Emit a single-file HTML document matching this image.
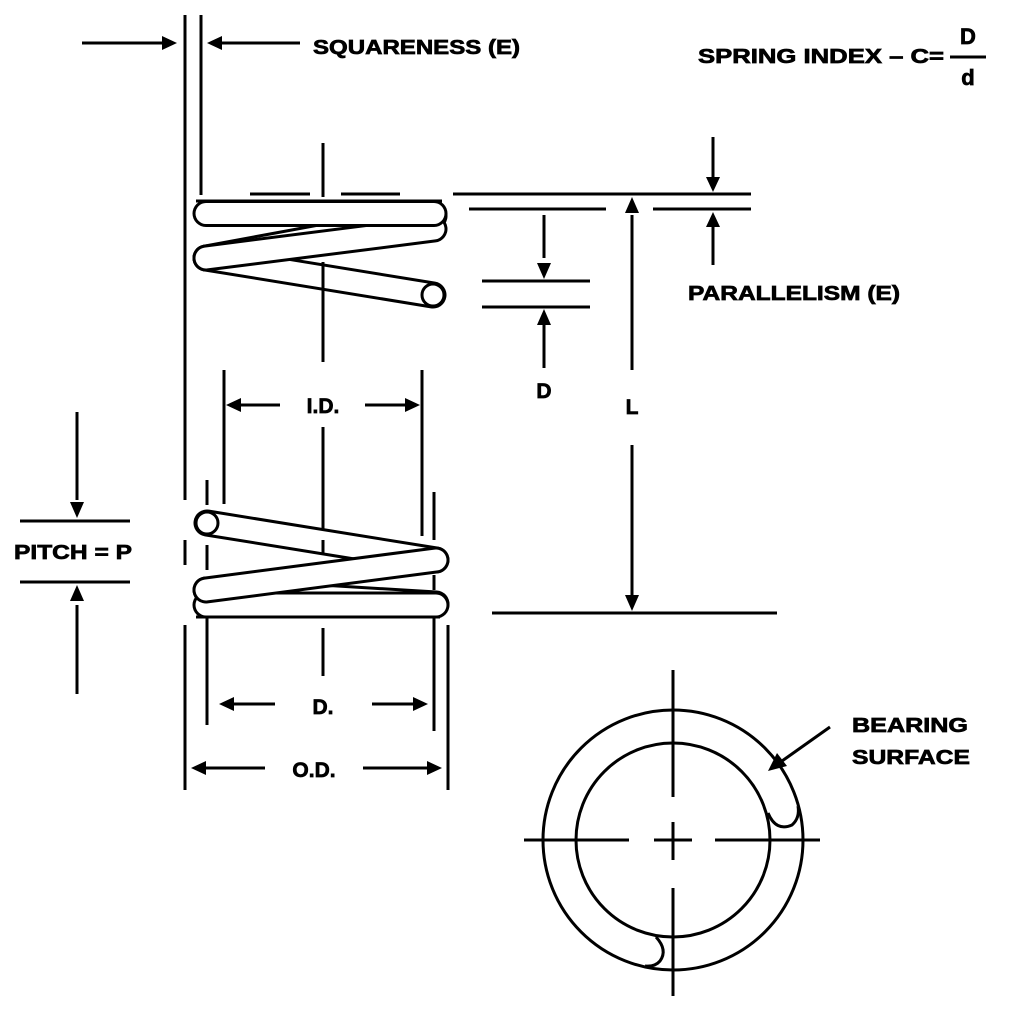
<!DOCTYPE html>
<html><head><meta charset="utf-8"><style>
html,body{margin:0;padding:0;background:#fff;}
svg{display:block;}
text{font-family:"Liberation Sans",sans-serif;font-weight:bold;fill:#000;stroke:#000;stroke-width:0.7;}
</style></head><body>
<svg width="1024" height="1024" viewBox="0 0 1024 1024" xmlns="http://www.w3.org/2000/svg">
<rect width="1024" height="1024" fill="#fff"/>
<g stroke="#000" stroke-width="3" fill="none">
<line x1="185" y1="15" x2="185" y2="500"/>
<line x1="185" y1="540" x2="185" y2="565"/>
<line x1="185" y1="625" x2="185" y2="790"/>
<line x1="201" y1="15" x2="201" y2="195"/>
<line x1="82" y1="43" x2="165" y2="43"/>
<line x1="220" y1="43" x2="300" y2="43"/>
<line x1="323" y1="143" x2="323" y2="197"/>
<line x1="250" y1="194" x2="310" y2="194"/>
<line x1="341" y1="194" x2="400" y2="194"/>
<line x1="453" y1="194" x2="751" y2="194"/>
<line x1="469" y1="209" x2="606" y2="209"/>
<line x1="653" y1="209" x2="751" y2="209"/>
<line x1="713" y1="137" x2="713" y2="180"/>
<line x1="713" y1="265" x2="713" y2="225"/>
<line x1="544" y1="215" x2="544" y2="258"/>
<line x1="482" y1="281" x2="590" y2="281"/>
<line x1="482" y1="307" x2="590" y2="307"/>
<line x1="544" y1="368" x2="544" y2="325"/>
<line x1="632" y1="370" x2="632" y2="215"/>
<line x1="632" y1="445" x2="632" y2="595"/>
<line x1="492" y1="613" x2="777" y2="613"/>
<line x1="224" y1="370" x2="224" y2="504"/>
<line x1="422" y1="370" x2="422" y2="536"/>
<line x1="238" y1="405" x2="280" y2="405"/>
<line x1="365" y1="405" x2="408" y2="405"/>
<line x1="323" y1="427" x2="323" y2="555"/>
<line x1="207" y1="480" x2="207" y2="505"/>
<line x1="207" y1="545" x2="207" y2="570"/>
<line x1="207" y1="617" x2="207" y2="725"/>
<line x1="434" y1="492" x2="434" y2="540"/>
<line x1="434" y1="575" x2="434" y2="590"/>
<line x1="434" y1="617" x2="434" y2="731"/>
<line x1="448" y1="625" x2="448" y2="790"/>
<line x1="323" y1="628" x2="323" y2="676"/>
<line x1="232" y1="704" x2="275" y2="704"/>
<line x1="372" y1="704" x2="415" y2="704"/>
<line x1="204" y1="768" x2="265" y2="768"/>
<line x1="363" y1="768" x2="428" y2="768"/>
<line x1="20" y1="521" x2="130" y2="521"/>
<line x1="20" y1="582" x2="130" y2="582"/>
<line x1="77" y1="412" x2="77" y2="500"/>
<line x1="77" y1="694" x2="77" y2="605"/>
<line x1="950" y1="57" x2="986" y2="57"/>
<circle cx="673" cy="840" r="130"/>
<circle cx="673" cy="840" r="97"/>
<line x1="673" y1="670" x2="673" y2="797"/>
<line x1="673" y1="822" x2="673" y2="860"/>
<line x1="673" y1="888" x2="673" y2="996"/>
<line x1="524" y1="840" x2="629" y2="840"/>
<line x1="654" y1="840" x2="692" y2="840"/>
<line x1="715" y1="840" x2="820" y2="840"/>
<line x1="830" y1="727" x2="782" y2="761"/>
</g>
<path d="M768,813 Q776,832 792,825 Q800,818 798,806" stroke="#000" stroke-width="3" fill="#fff"/>
<path d="M656,937 Q668,950 660,961 Q655,967 645,966" stroke="#000" stroke-width="3" fill="#fff"/>
<g fill="#000">
<polygon points="177,43 162,36 162,50"/>
<polygon points="207,43 222,36 222,50"/>
<polygon points="713,192 706,177 720,177"/>
<polygon points="713,212 706,227 720,227"/>
<polygon points="544,279 537,263 551,263"/>
<polygon points="544,309 537,325 551,325"/>
<polygon points="632,197 625,213 639,213"/>
<polygon points="632,611 625,595 639,595"/>
<polygon points="226,405 241,398 241,412"/>
<polygon points="420,405 405,398 405,412"/>
<polygon points="219,704 234,697 234,711"/>
<polygon points="428,704 413,697 413,711"/>
<polygon points="191,768 206,761 206,775"/>
<polygon points="442,768 427,761 427,775"/>
<polygon points="77,518 70,502 84,502"/>
<polygon points="77,585 70,601 84,601"/>
<polygon points="768,771 777,753 787,766"/>
</g>
<g stroke-linecap="round" fill="none">
<path d="M434,216 L206,258" stroke="#000" stroke-width="27"/><path d="M434,216 L206,258" stroke="#fff" stroke-width="21"/>
<path d="M206,258 L433,295" stroke="#000" stroke-width="27"/><path d="M206,258 L433,295" stroke="#fff" stroke-width="21"/>
</g>
<line x1="323" y1="262" x2="323" y2="362" stroke="#000" stroke-width="3"/>
<g stroke-linecap="round" fill="none">
<path d="M206,258 L434,229" stroke="#000" stroke-width="27"/><path d="M206,258 L434,229" stroke="#fff" stroke-width="21"/>
<path d="M206,213.5 L434,213.5" stroke="#000" stroke-width="27"/><path d="M206,213.5 L434,213.5" stroke="#fff" stroke-width="21"/>
<path d="M206,590 L436,604" stroke="#000" stroke-width="27"/><path d="M206,590 L436,604" stroke="#fff" stroke-width="21"/>
<path d="M206,605 L436,605" stroke="#000" stroke-width="27"/><path d="M206,605 L436,605" stroke="#fff" stroke-width="21"/>
<path d="M207,523 L436,560" stroke="#000" stroke-width="27"/><path d="M207,523 L436,560" stroke="#fff" stroke-width="21"/>
</g>
<line x1="323" y1="540" x2="323" y2="555" stroke="#000" stroke-width="3"/>
<g stroke-linecap="round" fill="none">
<path d="M206,590 L436,560" stroke="#000" stroke-width="27"/><path d="M206,590 L436,560" stroke="#fff" stroke-width="21"/>
</g>
<line x1="196" y1="617" x2="440" y2="617" stroke="#000" stroke-width="3"/>
<line x1="196" y1="201" x2="442" y2="201" stroke="#000" stroke-width="3"/>
<circle cx="433" cy="295" r="11" stroke="#000" stroke-width="3" fill="#fff"/>
<circle cx="207" cy="523" r="11" stroke="#000" stroke-width="3" fill="#fff"/>
<text x="313" y="54" font-size="20" textLength="207" lengthAdjust="spacingAndGlyphs">SQUARENESS (E)</text>
<text x="698" y="63" font-size="20" textLength="246" lengthAdjust="spacingAndGlyphs">SPRING INDEX – C=</text>
<text x="968" y="44" font-size="22" text-anchor="middle">D</text>
<text x="968" y="85" font-size="22" text-anchor="middle">d</text>
<text x="688" y="300" font-size="20" textLength="212" lengthAdjust="spacingAndGlyphs">PARALLELISM (E)</text>
<text x="544" y="398" font-size="21" text-anchor="middle">D</text>
<text x="632" y="414" font-size="21" text-anchor="middle">L</text>
<text x="323" y="413" font-size="21" text-anchor="middle">I.D.</text>
<text x="323" y="714" font-size="21" text-anchor="middle">D.</text>
<text x="314" y="777" font-size="21" text-anchor="middle">O.D.</text>
<text x="14" y="559" font-size="20" textLength="118" lengthAdjust="spacingAndGlyphs">PITCH = P</text>
<text x="852" y="732" font-size="20" textLength="116" lengthAdjust="spacingAndGlyphs">BEARING</text>
<text x="852" y="764" font-size="20" textLength="118" lengthAdjust="spacingAndGlyphs">SURFACE</text>
</svg>
</body></html>
